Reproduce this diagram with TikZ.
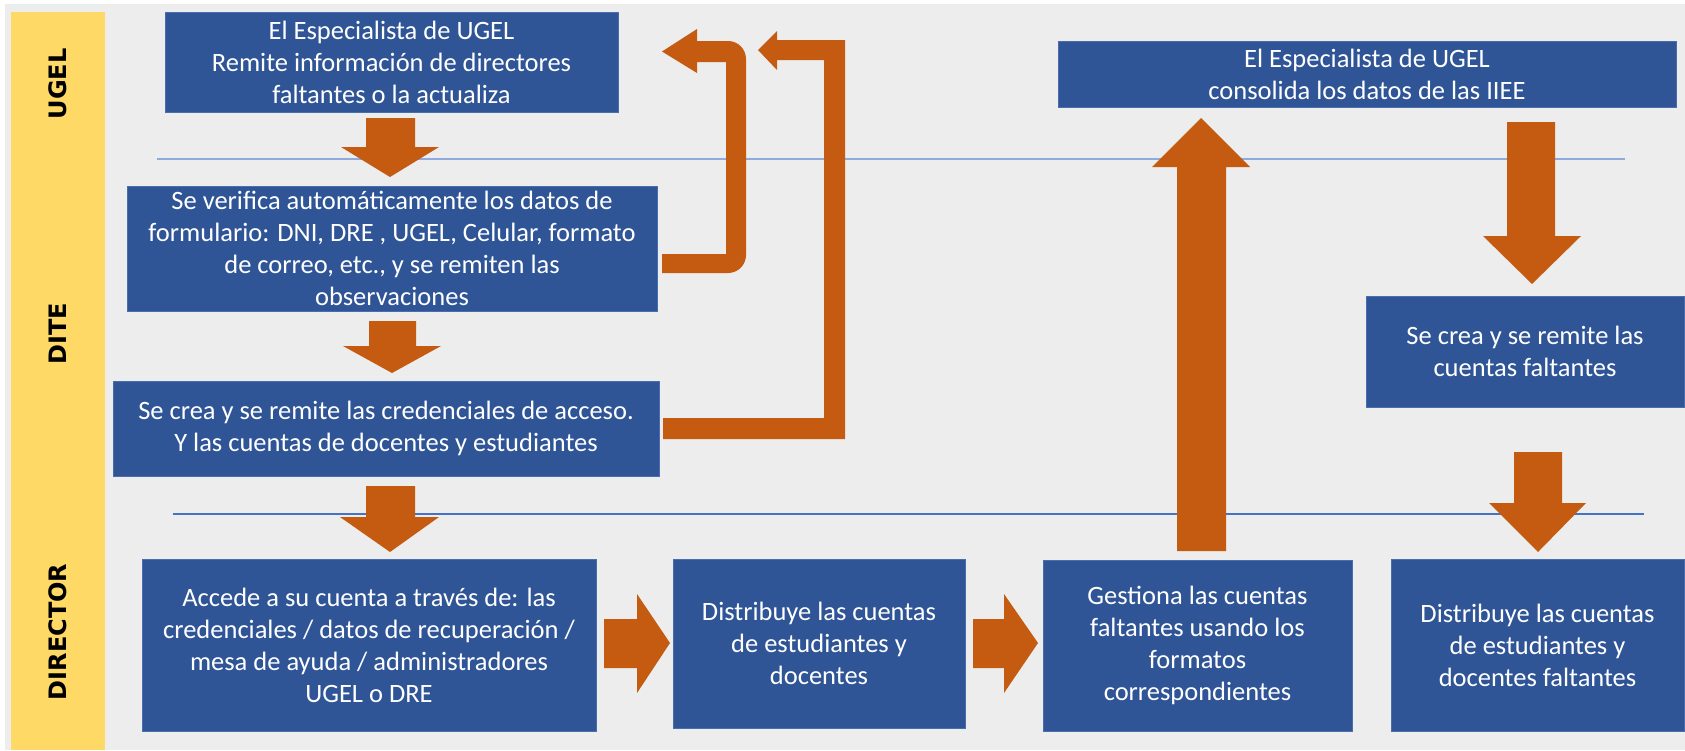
\documentclass[tikz,border=0pt]{standalone}
\usepackage{fontspec}
\setmainfont{Carlito}
\newfontfamily\lanefont{DejaVu Sans}
\definecolor{bggray}{HTML}{EDEDED}
\definecolor{laneyellow}{HTML}{FFD966}
\definecolor{boxblue}{HTML}{2F5597}
\definecolor{boxedge}{HTML}{4A6DAE}
\definecolor{arroworange}{HTML}{C55A11}
\definecolor{lineone}{HTML}{8FAADC}
\definecolor{linetwo}{HTML}{4472C4}
\tikzset{
  box/.style={fill=boxblue, draw=boxedge, line width=0.8pt, text=white, align=center,
    inner sep=0pt,
    font=\fontsize{26.5}{32}\selectfont},
  lanelabel/.style={rotate=90, font=\lanefont\bfseries\fontsize{24}{26}\selectfont, text=black},
  blockarrow/.style={fill=arroworange, draw=none},
  divider/.style={line width=1.4pt}
}
\begin{document}
\begin{tikzpicture}[x=1pt,y=-1pt]
\useasboundingbox (0,0) rectangle (1685,750);
\fill[white] (0,0) rectangle (1685,750);
\fill[bggray] (5,4) rectangle (1685,750);
\fill[laneyellow] (11,12) rectangle (105,750);

\node[lanelabel] (lugel) at (58,84) {UGEL};
\node[lanelabel] (ldite) at (58,334) {DITE};
\node[lanelabel] (ldir) at (58,632) {DIRECTOR};

% dividers
\coordinate (d1a) at (157,159); \coordinate (d1b) at (1625,159);
\coordinate (d2a) at (173,514); \coordinate (d2b) at (1644,514);
\draw[divider, lineone] (d1a) -- (d1b);
\draw[divider, linetwo] (d2a) -- (d2b);

% boxes
\node[box, minimum width=453pt, minimum height=100pt] (A) at (391.5,62)
  {El Especialista de UGEL\\Remite información de directores\\faltantes o la actualiza};
\node[box, minimum width=530pt, minimum height=125pt] (B) at (392,248.5)
  {Se verifica automáticamente los datos de\\formulario: DNI, DRE , UGEL, Celular, formato\\de correo, etc., y se remiten las\\observaciones};
\node[box, minimum width=546pt, minimum height=95pt] (C) at (386,428.5)
  {Se crea y se remite las credenciales de acceso.\\Y las cuentas de docentes y estudiantes};
\node[box, minimum width=454pt, minimum height=172pt] (D) at (369,645)
  {Accede a su cuenta a través de: las\\credenciales / datos de recuperación /\\mesa de ayuda / administradores\\UGEL o DRE};
\node[box, minimum width=292pt, minimum height=169pt] (E) at (819,643.5)
  {Distribuye las cuentas\\de estudiantes y\\docentes};
\node[box, minimum width=309pt, minimum height=171pt] (F) at (1197.5,645.5)
  {Gestiona las cuentas\\faltantes usando los\\formatos\\correspondientes};
\node[box, minimum width=293pt, minimum height=172pt] (G) at (1537.5,645)
  {Distribuye las cuentas\\de estudiantes y\\docentes faltantes};
\node[box, minimum width=618pt, minimum height=66pt] (H) at (1367,74)
  {El Especialista de UGEL\\consolida los datos de las IIEE};
\node[box, minimum width=318pt, minimum height=111pt] (I) at (1525,351.5)
  {Se crea y se remite las\\cuentas faltantes};

% down arrows
\fill[blockarrow] (366,118) -- (415,118) -- (415,147) -- (439,147) -- (390,177) -- (341,147) -- (366,147) -- cycle;
\fill[blockarrow] (369,321) -- (416,321) -- (416,346) -- (441,346) -- (392,373) -- (343,346) -- (369,346) -- cycle;
\fill[blockarrow] (366,486) -- (415,486) -- (415,517) -- (439,517) -- (390,552) -- (340,517) -- (366,517) -- cycle;
\fill[blockarrow] (1507,122) -- (1555,122) -- (1555,236) -- (1581,236) -- (1532,284) -- (1483,236) -- (1507,236) -- cycle;
\fill[blockarrow] (1514,452) -- (1562,452) -- (1562,503) -- (1586,503) -- (1538,552) -- (1489,503) -- (1514,503) -- cycle;
% up arrow
\fill[blockarrow] (1177,551) -- (1226,551) -- (1226,167) -- (1250,167) -- (1201,118) -- (1152,167) -- (1177,167) -- cycle;
% right arrows
\fill[blockarrow] (604,619) -- (637,619) -- (637,594) -- (670,643) -- (637,693) -- (637,668) -- (604,668) -- cycle;
\fill[blockarrow] (973,619) -- (1004,619) -- (1004,594) -- (1038,643) -- (1004,693) -- (1004,668) -- (973,668) -- cycle;

% loop arrows
\fill[blockarrow] (662,254) -- (726,254) -- (726,62) -- (697,62) -- (697,73) -- (662,51.5) -- (697,29) -- (697,41)
  [rounded corners=18pt] -- (746,41) -- (746,273) [sharp corners] -- (662,273) -- cycle;
\fill[blockarrow] (663,418) -- (824,418) -- (824,60) -- (777,60) -- (777,70) -- (758,50) -- (777,31) -- (777,40)
  -- (845,40) -- (845,439) -- (663,439) -- cycle;
\end{tikzpicture}
\end{document}
